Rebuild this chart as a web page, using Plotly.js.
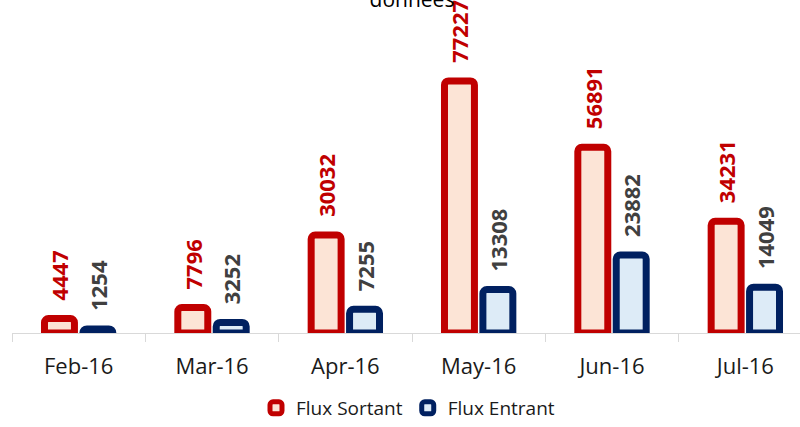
<!DOCTYPE html>
<html>
<head>
<meta charset="utf-8">
<script src="https://cdn.plot.ly/plotly-3.0.1.min.js"></script>
<style>html,body{margin:0;padding:0;background:#fff;}#chart{width:800px;height:427px;}</style>
</head>
<body>
<div id="chart"></div>
<script>
const months = ["Feb-16", "Mar-16", "Apr-16", "May-16", "Jun-16", "Jul-16"];
const fluxSortant = [4447, 7796, 30032, 77227, 56891, 34231];
const fluxEntrant = [1254, 3252, 7255, 13308, 23882, 14049];
const seriesNames = ["Flux Sortant", "Flux Entrant"];
const titleText = "données";

const labelFont = {family: "Open Sans, sans-serif", size: 22, weight: 700};
const pad = "\u00a0\u00a0\u2009";

const traces = [
  {
    type: "bar", name: seriesNames[0], x: months, y: fluxSortant,
    marker: {color: "#FCE4D6", line: {color: "#C00000", width: 7}, cornerradius: 4},
    text: fluxSortant.map(String), texttemplate: pad + "%{text}", textposition: "outside", textangle: -90,
    textfont: Object.assign({color: "#C00000"}, labelFont),
    cliponaxis: false, constraintext: "none", hoverinfo: "x+y"
  },
  {
    type: "bar", name: seriesNames[1], x: months, y: fluxEntrant,
    marker: {color: "#DDEBF7", line: {color: "#002060", width: 7}, cornerradius: 4},
    text: fluxEntrant.map(String), texttemplate: pad + "%{text}", textposition: "outside", textangle: -90,
    textfont: Object.assign({color: "#404040"}, labelFont),
    cliponaxis: false, constraintext: "none", hoverinfo: "x+y"
  }
];

const layout = {
  width: 800, height: 427,
  margin: {l: 12, r: 0, t: 20, b: 93.5, autoexpand: false},
  paper_bgcolor: "#fff", plot_bgcolor: "#fff",
  barmode: "group", bargap: 0.424, bargroupgap: 0.22,
  title: {text: titleText, font: {family: "Open Sans, sans-serif", size: 21, color: "#000"},
          x: 412/800, xanchor: "center", xref: "container", y: 1, yref: "container", yanchor: "middle",
          automargin: false},
  xaxis: {
    type: "category", range: [-0.5, 5.41], tickson: "boundaries",
    ticks: "outside", ticklen: 8, tickcolor: "#d9d9d9", tickwidth: 1,
    showline: true, linecolor: "#d9d9d9", linewidth: 1,
    showgrid: false, zeroline: false, automargin: false,
    tickfont: {family: "Open Sans, sans-serif", size: 22, color: "#1a1a1a"},
    ticklabelstandoff: 14
  },
  yaxis: {range: [0, 95884], visible: false, showgrid: false, zeroline: false},
  showlegend: true,
  legend: {orientation: "h", x: 408/800, xref: "container", xanchor: "center",
           y: 0, yref: "container", yanchor: "bottom",
           font: {family: "Open Sans, sans-serif", size: 19, color: "#1a1a1a"},
           itemwidth: 30, traceorder: "normal"}
};

Plotly.newPlot("chart", traces, layout, {displayModeBar: false, staticPlot: true});
</script>
</body>
</html>
